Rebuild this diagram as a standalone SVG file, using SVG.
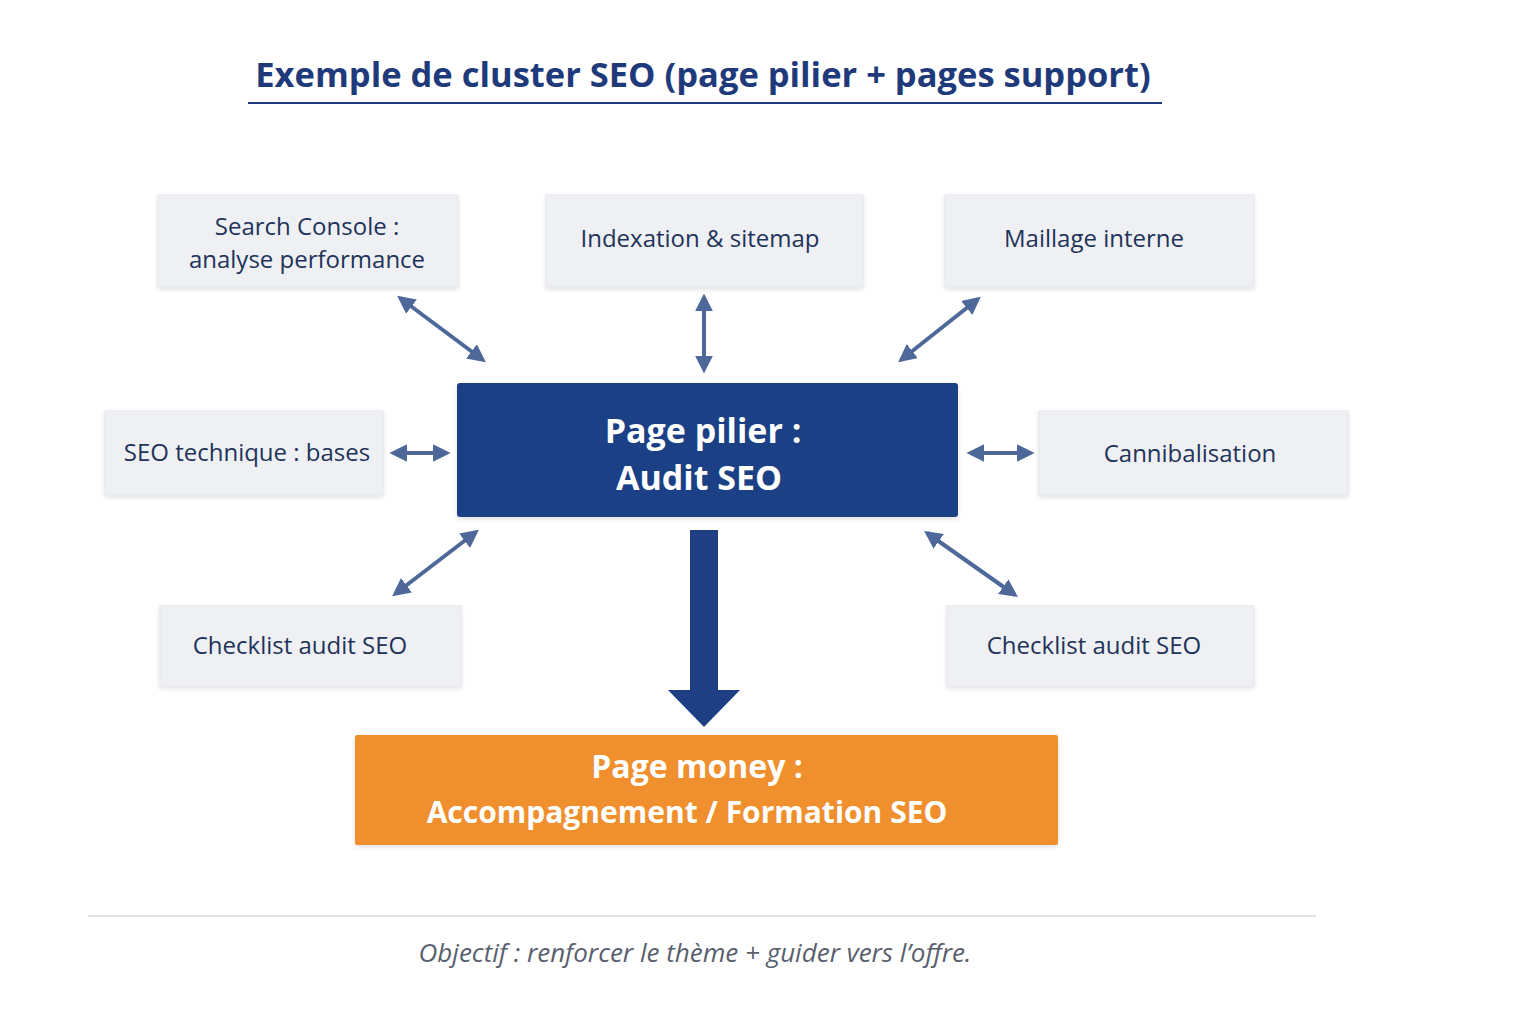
<svg xmlns="http://www.w3.org/2000/svg" width="1536" height="1024" viewBox="0 0 1536 1024">
<defs>
<style>
.sb{fill:#eef0f4;stroke:#e2e5ea;stroke-width:1}
.st{font-family:"Open Sans","Liberation Sans",sans-serif;font-size:24px;fill:#22335a;text-anchor:middle}
.bt{font-family:"Open Sans","Liberation Sans",sans-serif;font-weight:bold;fill:#fff;text-anchor:middle}
.c{stroke:#4d6899;stroke-width:4;fill:none;marker-start:url(#h);marker-end:url(#h)}
</style>
<marker id="h" viewBox="0 0 10 10" refX="8" refY="5" markerWidth="4.5" markerHeight="4.5" orient="auto-start-reverse"><path d="M0,0 L10,5 L0,10 Z" fill="#4d6899"/></marker>
<filter id="sh" x="-5%" y="-5%" width="110%" height="120%"><feDropShadow dx="0" dy="2" stdDeviation="2" flood-color="#000" flood-opacity="0.12"/></filter>
</defs>
<rect width="1536" height="1024" fill="#fff"/>
<text x="703" y="87" text-anchor="middle" font-family="'Open Sans','Liberation Sans',sans-serif" font-weight="bold" font-size="34.5" fill="#1f3a7a">Exemple de cluster SEO (page pilier + pages support)</text>
<line x1="248" y1="103" x2="1162" y2="103" stroke="#1f3a7a" stroke-width="2"/>
<g id="n1"><rect class="sb" filter="url(#sh)" x="158" y="195" width="300" height="92"/><text class="st" x="307" y="235">Search Console :</text><text class="st" x="307" y="268">analyse performance</text></g>
<g id="n2"><rect class="sb" filter="url(#sh)" x="546" y="195" width="317" height="92"/><text class="st" x="700" y="247">Indexation &amp; sitemap</text></g>
<g id="n3"><rect class="sb" filter="url(#sh)" x="945" y="195" width="309" height="92"/><text class="st" x="1094" y="247">Maillage interne</text></g>
<g id="n4"><rect class="sb" filter="url(#sh)" x="105" y="411" width="278" height="84"/><text class="st" x="247" y="461">SEO technique : bases</text></g>
<g id="n5"><rect class="sb" filter="url(#sh)" x="1039" y="411" width="309" height="84"/><text class="st" x="1190" y="462">Cannibalisation</text></g>
<g id="n6"><rect class="sb" filter="url(#sh)" x="160" y="606" width="301" height="80"/><text class="st" x="300" y="654">Checklist audit SEO</text></g>
<g id="n7"><rect class="sb" filter="url(#sh)" x="947" y="606" width="307" height="80"/><text class="st" x="1094" y="654">Checklist audit SEO</text></g>
<g id="pilier"><rect x="457" y="383" width="501" height="134" rx="3" fill="#1f3f85" filter="url(#sh)"/><text class="bt" font-size="34" x="703" y="443">Page pilier :</text><text class="bt" font-size="34" x="699" y="490">Audit SEO</text></g>
<g id="money"><rect x="355" y="735" width="703" height="110" rx="2" fill="#ef8f2e" filter="url(#sh)"/><text class="bt" font-size="32" x="697" y="778">Page money :</text><text class="bt" font-size="30" x="687" y="823">Accompagnement / Formation SEO</text></g>
<g id="connectors">
<line class="c" x1="400" y1="298" x2="483" y2="360"/>
<line class="c" x1="704" y1="297" x2="704" y2="370"/>
<line class="c" x1="978" y1="299" x2="901" y2="360"/>
<line class="c" x1="393" y1="453" x2="447" y2="453"/>
<line class="c" x1="970" y1="453" x2="1031" y2="453"/>
<line class="c" x1="476" y1="532" x2="395" y2="594"/>
<line class="c" x1="927" y1="533" x2="1015" y2="595"/>
<path d="M690,530 H718 V690 H740 L704,727 L668,690 H690 Z" fill="#1f3f85"/>
</g>
<line x1="88" y1="916" x2="1316" y2="916" stroke="#d5d8de" stroke-width="1.5"/>
<text x="695" y="962" text-anchor="middle" font-family="'Open Sans','Liberation Sans',sans-serif" font-style="italic" font-size="26" fill="#5a5f70">Objectif : renforcer le thème + guider vers l’offre.</text>
</svg>
